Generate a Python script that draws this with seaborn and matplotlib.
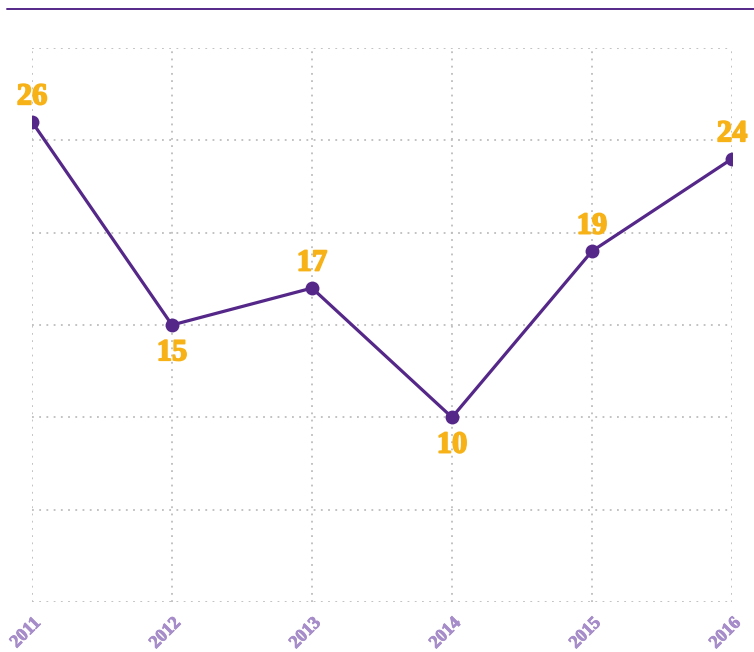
import matplotlib
matplotlib.use("Agg")
import matplotlib.pyplot as plt
import matplotlib.patheffects as pe
import seaborn as sns
import pandas as pd
from matplotlib.lines import Line2D

years = [2011, 2012, 2013, 2014, 2015, 2016]
values = [26, 15, 17, 10, 19, 24]

PURPLE = "#542788"
GOLD = "#F7B217"
TICK_PURPLE = "#A68CC9"
GRID = "#bdbdbd"

sns.set_style("white")
plt.rcParams["font.family"] = ["Liberation Serif", "DejaVu Serif"]

df = pd.DataFrame({"year": years, "value": values})

fig = plt.figure(figsize=(7.54, 6.52), dpi=100)
ax = fig.add_axes([32 / 754, 1 - 602 / 652, 700 / 754, 554 / 652])

sns.lineplot(data=df, x="year", y="value", ax=ax, color=PURPLE, linewidth=2.3,
             marker="o", markersize=10, markeredgewidth=0, zorder=3)

ax.set_xlim(years[0], years[-1])
ax.set_ylim(0, 30)
ax.set_xticks(years)
ax.set_yticks(range(0, 31, 5))
ax.set_yticklabels([])
ax.set_xlabel("")
ax.set_ylabel("")
ax.grid(True, linestyle=(0, (1, 3)), color=GRID, linewidth=1.3)
for s in ax.spines.values():
    s.set_visible(False)
ax.tick_params(axis="both", length=0)
ax.tick_params(axis="x", pad=9)
for lbl in ax.get_xticklabels():
    lbl.set_rotation(45)
    lbl.set_ha("right")
    lbl.set_rotation_mode("anchor")
    lbl.set_color(TICK_PURPLE)
    lbl.set_fontweight("bold")
    lbl.set_fontsize(13)
    lbl.set_path_effects([pe.withStroke(linewidth=0.6, foreground=TICK_PURPLE)])

# value labels: below for local minima, above otherwise
for i, (x, v) in enumerate(zip(years, values)):
    prev_v = values[i - 1] if i > 0 else None
    next_v = values[i + 1] if i < len(values) - 1 else None
    below = prev_v is not None and next_v is not None and v < prev_v and v < next_v
    ax.annotate(str(v), (x, v), xytext=(0, -20 if below else 18),
                textcoords="offset points", ha="center", va="center",
                color=GOLD, fontsize=22, fontweight="bold",
                annotation_clip=False, zorder=4,
                path_effects=[pe.withStroke(linewidth=1.2, foreground=GOLD)])

fig.add_artist(Line2D([7 / 754, 1], [1 - 9 / 652, 1 - 9 / 652],
                      color=PURPLE, linewidth=1.4))

fig.savefig("out.png", dpi=100)
